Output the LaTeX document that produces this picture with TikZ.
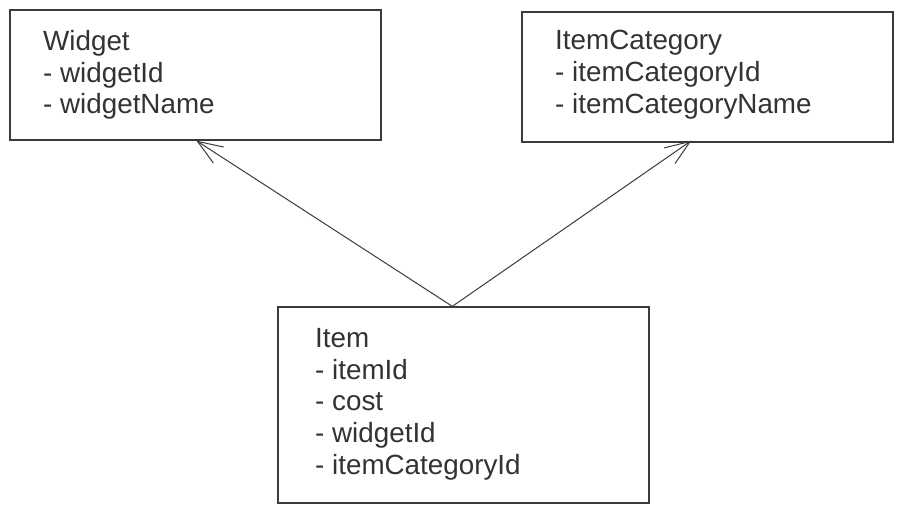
\documentclass[tikz,border=0pt]{standalone}
\usepackage{fontspec}
\setmainfont{Liberation Sans}
\usetikzlibrary{arrows.meta,calc}
\definecolor{ink}{HTML}{333333}
\definecolor{edge}{HTML}{3A3A3A}
\begin{document}
\begin{tikzpicture}[x=1pt,y=-1pt,
  box/.style={draw=edge,line width=1.3pt,rectangle,inner sep=0pt,minimum width=371pt},
  txt/.style={anchor=north west,inner sep=0pt,align=left,text=ink,font=\fontsize{27.8}{31.7}\selectfont},
  link/.style={draw=edge,line width=1pt,-{Straight Barb[length=25pt,width=19pt,line width=1pt]}}]
\useasboundingbox (0,0) rectangle (903,513);
\node[box,minimum height=130pt] (widget) at (195.5,75) {};
\node[box,minimum height=130pt] (cat) at (707.5,77) {};
\node[box,minimum height=196pt] (item) at (463.5,405) {};
\node[txt] (widgettxt) at (43,30) {Widget\\- widgetId\\- widgetName};
\node[txt] (cattxt) at (555,30) {ItemCategory\\- itemCategoryId\\- itemCategoryName};
\node[txt] (itemtxt) at (315,328) {Item\\- itemId\\- cost\\- widgetId\\- itemCategoryId};
\coordinate (s) at ($(item.north west)+(175,0)$);
\coordinate (tw) at ($(widget.south west)+(187,0)$);
\coordinate (tc) at ($(cat.south west)+(170,-2)$);
\draw[link] (s) -- (tw);
\draw[link] (s) -- (tc);
\end{tikzpicture}
\end{document}
